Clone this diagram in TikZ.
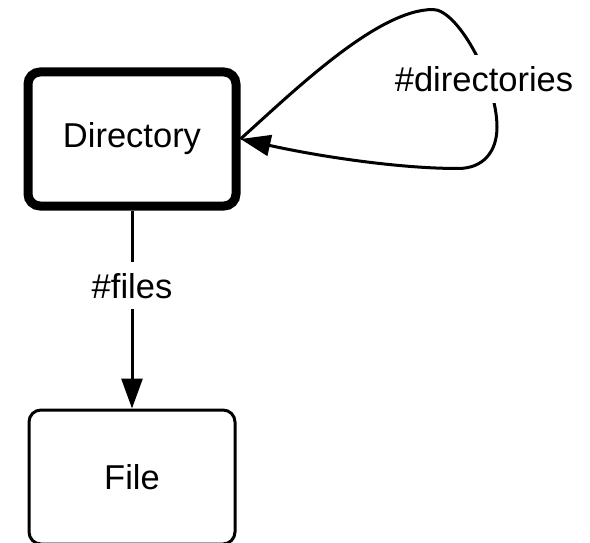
\documentclass[tikz,border=0pt]{standalone}
\usepackage{fontspec}
\setmainfont{Liberation Sans}
\usetikzlibrary{arrows.meta}
\begin{document}
\begin{tikzpicture}[x=1pt,y=1pt,
  box/.style={draw, rounded corners=12pt, minimum width=208pt, minimum height=134pt, font=\fontsize{34.5}{40}\selectfont, inner sep=0pt},
  thickbox/.style={box, line width=9pt},
  thinbox/.style={box, line width=3pt, minimum width=206pt},
  conn/.style={line width=3pt, -{Triangle[length=30pt,width=21pt]}},
  lbl/.style={fill=white, font=\fontsize{34.5}{40}\selectfont, inner xsep=2pt, inner ysep=11pt}]
\useasboundingbox (0,0) rectangle (590,-543);
\node[thickbox] (dir) at (132,-139) {Directory};
\node[thinbox] (file) at (132,-477) {File};
\draw[conn] (dir.south) -- (file.north) node[lbl, pos=0.38] (fl) {\#files};
\coordinate (lpk) at (433,-9.5);
\coordinate (lrt) at (497,-127);
\coordinate (lbt) at (458,-168.5);
\draw[conn] (dir.east) .. controls +(42:75) and +(-55,0) .. (lpk)
  .. controls +(25,0) and +(0,45) .. (lrt)
  .. controls +(0,-25) and +(25,0) .. (lbt)
  .. controls +(-60,0) and +(-12.5:80) .. (dir.east);
\node[lbl] (dl) at (484,-79) {\#directories};
\end{tikzpicture}
\end{document}
